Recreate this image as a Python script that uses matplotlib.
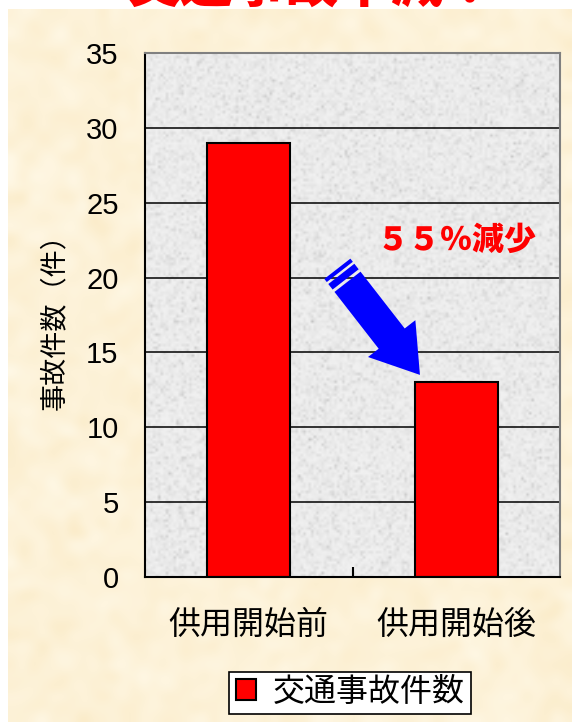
import numpy as np
import matplotlib.pyplot as plt
from matplotlib import transforms
from matplotlib.patches import Polygon

plt.rcParams['font.family'] = ['Liberation Sans', 'Noto Sans CJK JP']

categories = ['供用開始前', '供用開始後']
accidents = [29, 13]
y_ticks = [0, 5, 10, 15, 20, 25, 30, 35]
series_name = '交通事故件数'
y_title = '事故件数（件）'
note = '５５％減少'
headline = '交通事故半減！'

W, H, DPI = 572, 722, 100
fig = plt.figure(figsize=(W / DPI, H / DPI), dpi=DPI, facecolor='white')
rng = np.random.default_rng(11)

# parchment backdrop, thin white margin left and top
bg = fig.add_axes([8 / W, 0, 1 - 8 / W, 1 - 9 / H], zorder=0)
blot = rng.normal(0, 1, (70, 56))
base = np.array([253, 242, 216]) / 255
shift = np.array([1, 3, 7]) / 255
paper = np.clip(base + blot[..., None] * shift, 0, 1)
bg.imshow(paper, aspect='auto', interpolation='bicubic', extent=(0, 1, 0, 1))
bg.set_xlim(0, 1)
bg.set_ylim(0, 1)
bg.axis('off')

ax = fig.add_axes([145 / W, 145 / H, 415 / W, 524 / H], zorder=1)

# granite fill of the plot area
grain = rng.normal(0, 1, (200, 160))
stone = np.clip(0.945 - 0.04 * np.abs(grain) + 0.01 * grain, 0, 1)
ax.imshow(stone, cmap='gray', vmin=0, vmax=1, extent=(-0.5, 1.5, 0, 35),
          aspect='auto', interpolation='bilinear', zorder=0)

x = np.arange(len(categories))
bars = ax.bar(x, accidents, width=0.4, color='#FF0000', edgecolor='black',
              linewidth=1.5, zorder=2, label=series_name)

ax.set_xlim(-0.5, 1.5)
ax.set_ylim(0, 35)
ax.set_yticks(y_ticks)
ax.set_axisbelow(True)
ax.yaxis.grid(True, color='black', linewidth=1.1)
ax.tick_params(axis='y', length=0, pad=19, labelsize=21)
ax.set_xticks(x, categories)
ax.tick_params(axis='x', length=0, pad=24, labelsize=23)
ax.set_xticks([0.5], minor=True)
ax.tick_params(axis='x', which='minor', direction='in', length=7, width=1.5)

for side in ('top', 'right'):
    ax.spines[side].set_color('#808080')
for side in ('left', 'bottom'):
    ax.spines[side].set_color('black')
for sp in ax.spines.values():
    sp.set_linewidth(1.5)

ax.set_ylabel(y_title, fontsize=19.5)
ax.yaxis.set_label_coords(-0.185, 0.5)

# striped blue arrow pointing at the second bar, built in pixel units
tip = (1 - 0.175, accidents[1] + 0.5)
d = np.array([0.614, -0.789])
n = np.array([0.789, 0.614])


def pt(s, w):
    return -s * d + w * n


shaft_w = 16.5
arrow_pts = [pt(0, 0), pt(46, 30), pt(46, shaft_w), pt(118, shaft_w),
             pt(118, -shaft_w), pt(46, -shaft_w), pt(46, -30)]
pieces = [arrow_pts]
for s0, s1 in [(121, 128), (130.5, 134.5)]:
    pieces.append([pt(s0, shaft_w), pt(s1, shaft_w), pt(s1, -shaft_w), pt(s0, -shaft_w)])

tr = transforms.ScaledTranslation(tip[0], tip[1], ax.transData)
for verts in pieces:
    ax.add_patch(Polygon(verts, closed=True, facecolor='#0000FF', edgecolor='none',
                         transform=tr, zorder=3, clip_on=False))

ax.text(1.0, 22.4, note, color='#FF0000', fontsize=23, fontweight='heavy',
        ha='center', va='center', zorder=4)

fig.text(312 / W, 1 - 2 / H, headline, color='#FF0000', fontsize=38,
         fontweight='heavy', ha='center', va='baseline', zorder=5)

leg = fig.legend(handles=[bars], loc='center', bbox_to_anchor=(350 / W, 1 - 693 / H),
                 frameon=True, fancybox=False, edgecolor='black', framealpha=1,
                 fontsize=23, handlelength=0.65, handleheight=0.65,
                 handletextpad=0.5, borderpad=0.2, borderaxespad=0)
leg.get_frame().set_linewidth(1.2)

fig.savefig('out.png', dpi=DPI, facecolor='white')
